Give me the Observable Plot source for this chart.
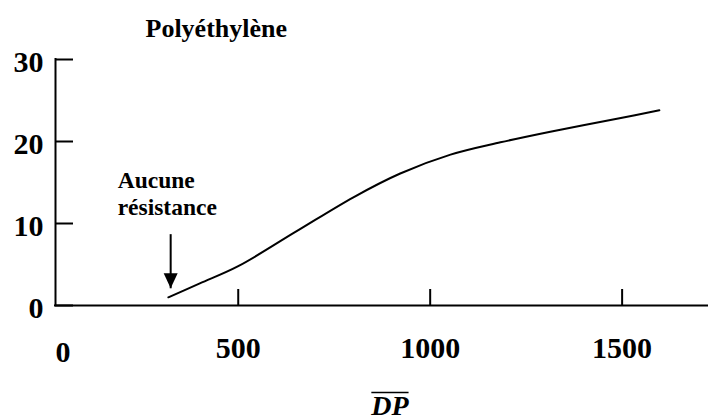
<!DOCTYPE html>
<html>
<head>
<meta charset="utf-8">
<script src="https://cdn.jsdelivr.net/npm/d3@7"></script>
<script src="https://cdn.jsdelivr.net/npm/@observablehq/plot@0.6"></script>
<style>
  body { margin: 0; background: #fff; }
</style>
</head>
<body>
<div id="chart"></div>
<script>
// Data
const dp = [318, 400, 500, 650, 800, 922, 1053, 1183, 1313, 1500, 1597];
const resistance = [1.0, 2.7, 4.8, 9.0, 13.2, 16.1, 18.4, 19.9, 21.2, 22.9, 23.8];
const xTicks = [500, 1000, 1500];
const yTicks = [0, 10, 20, 30];
const originLabel = "0";
const title = "Polyéthylène";
const xLabel = "DP";
const noteText = ["Aucune", "résistance"];
const noteArrow = [{x: 324, from: 8.7, to: 2.1}];
const notePos = [{x: 186, y: 11.0}];
const xDomain = [24, 1725];
const yDomain = [0, 30];

const data = dp.map((x, i) => ({x, y: resistance[i]}));
const serif = "'Liberation Serif', 'Times New Roman', serif";

// filled arrowhead pointing down, tip at the anchor point
const arrowHead = {
  draw(context) {
    context.moveTo(0, 0);
    context.lineTo(-7, -15);
    context.lineTo(7, -15);
    context.closePath();
  }
};

const chart = Plot.plot({
  width: 708,
  height: 419,
  marginLeft: 55,
  marginRight: 0,
  marginTop: 59,
  marginBottom: 114,
  x: {domain: xDomain},
  y: {domain: yDomain},
  style: {background: "white", color: "black", fontFamily: serif},
  marks: [
    // axis lines
    Plot.ruleY([0], {strokeWidth: 2, strokeLinecap: "square"}),
    Plot.ruleX([xDomain[0]], {strokeWidth: 2, strokeLinecap: "square"}),
    // inward ticks
    Plot.axisX(xTicks, {tickSize: -16, strokeWidth: 2, fill: "none", label: null}),
    Plot.axisY(yTicks, {tickSize: -18, strokeWidth: 2, fill: "none", label: null}),
    // tick labels
    Plot.axisX(xTicks, {tickSize: 0, tickPadding: 31, fontSize: 30, fontWeight: "bold", tickFormat: d3.format("d"), label: null}),
    Plot.axisY(yTicks, {tickSize: 0, tickPadding: 12, dy: 3, fontSize: 30, fontWeight: "bold", tickFormat: d3.format("d"), label: null}),
    Plot.text([originLabel], {frameAnchor: "bottom-left", textAnchor: "start", lineAnchor: "bottom", dy: 56, fontSize: 30, fontWeight: "bold"}),
    // curve
    Plot.line(data, {x: "x", y: "y", curve: "catmull-rom", strokeWidth: 2}),
    // annotation
    Plot.link(noteArrow, {x1: "x", x2: "x", y1: "from", y2: "to", strokeWidth: 2}),
    Plot.dot(noteArrow, {x: "x", y: "to", symbol: arrowHead, r: 6, fill: "black", stroke: null}),
    Plot.text(notePos, {x: "x", y: "y", text: () => noteText.join("\n"), textAnchor: "start", lineAnchor: "bottom", lineHeight: 1.15, fontSize: 23.5, fontWeight: "bold"}),
    // title
    Plot.text([title], {frameAnchor: "top-left", textAnchor: "start", lineAnchor: "bottom", dx: 90, dy: -23, fontSize: 26, fontWeight: "bold"}),
    // x label
    Plot.text([xLabel], {frameAnchor: "bottom", lineAnchor: "bottom", dx: 8, dy: 109, fontSize: 28, fontWeight: "bold", fontStyle: "italic"})
  ]
});

document.getElementById("chart").appendChild(chart);

// overline above the x label (mean-value bar)
d3.select(chart).selectAll("text")
  .filter(function () { return this.textContent === xLabel; })
  .each(function () {
    const b = this.getBBox();
    d3.select(this.parentNode).append("line")
      .attr("transform", this.getAttribute("transform"))
      .attr("x1", b.x + 1).attr("x2", b.x + b.width - 1)
      .attr("y1", b.y + 3).attr("y2", b.y + 3)
      .attr("stroke", "black").attr("stroke-width", 1.3);
  });
</script>
</body>
</html>
